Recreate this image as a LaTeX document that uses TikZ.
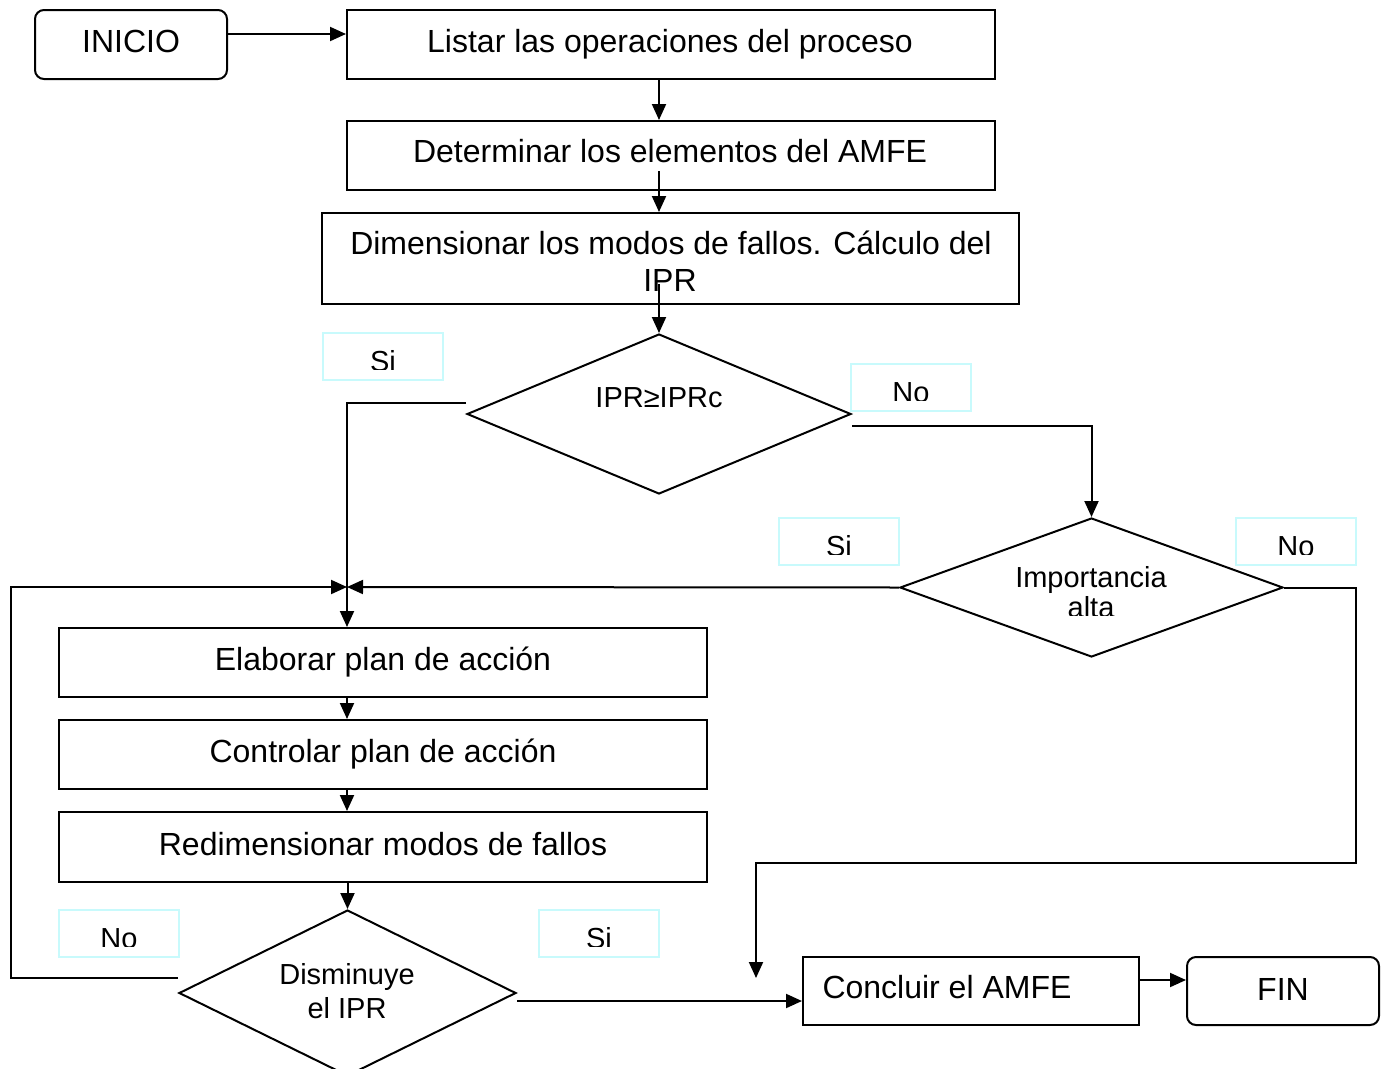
\documentclass[tikz,border=0pt]{standalone}
\usepackage{fontspec}
\setmainfont{Liberation Sans}
\usetikzlibrary{arrows.meta,shapes.geometric}

\definecolor{lblcyan}{RGB}{200,250,252}

\begin{document}
\begin{tikzpicture}[x=1pt,y=-1pt,
  line width=2pt,
  box/.style={draw=black, line width=2pt, inner sep=0pt},
  rbox/.style={box, rounded corners=9pt},
  decision/.style={draw=black, line width=2pt, diamond, inner sep=0pt},
  lbl/.style={draw=lblcyan, line width=1.8pt, inner sep=0pt,
              minimum width=120pt, minimum height=47pt},
  bigtxt/.style={anchor=base, inner sep=0pt, font=\fontsize{32}{37}\selectfont},
  smalltxt/.style={anchor=base, inner sep=0pt, font=\fontsize{29}{34}\selectfont},
  arr/.style={-{Triangle[length=16pt,width=14pt]}, line width=2pt}]

\useasboundingbox (0,0) rectangle (1386,1068);

% process boxes
\node[rbox, minimum width=192pt, minimum height=69pt] (inicio) at (131,44.5) {};
\node[box,  minimum width=648pt, minimum height=69pt] (listar) at (671,44.5) {};
\node[box,  minimum width=648pt, minimum height=69pt] (determ) at (671,155.5) {};
\node[box,  minimum width=697pt, minimum height=91pt] (dimens) at (670.5,258.5) {};
\node[box,  minimum width=648pt, minimum height=69pt] (elab)   at (383,662.5) {};
\node[box,  minimum width=648pt, minimum height=69pt] (contr)  at (383,754.5) {};
\node[box,  minimum width=648pt, minimum height=70pt] (redim)  at (383,847) {};
\node[box,  minimum width=336pt, minimum height=68pt] (concl)  at (971,991) {};
\node[rbox, minimum width=192pt, minimum height=68pt] (fin)    at (1283,991) {};

% decisions
\node[decision, minimum width=384pt, minimum height=160pt] (ipr)  at (659,414) {};
\node[decision, minimum width=383pt, minimum height=139pt] (imp)  at (1091.5,587.5) {};
\node[decision, minimum width=337pt, minimum height=166pt] (dism) at (347.5,993) {};

% texts
\node[bigtxt] (t-inicio) at (131,52) {INICIO};
\node[bigtxt] (t-listar) at (670,52) {Listar las operaciones del proceso};
\node[bigtxt] (t-determ) at (670,162) {Determinar los elementos del AMFE};
\node[bigtxt] (t-dim1) at (671,254) {Dimensionar los modos de fallos. Cálculo del};
\node[bigtxt] (t-dim2) at (670,291) {IPR};
\node[smalltxt] (t-ipr) at (659,407) {IPR≥IPRc};
\node[smalltxt] (t-imp1) at (1091,587) {Importancia};
\begin{scope}
  \clip (1000,595) rectangle (1180,615);
  \node[smalltxt] (t-imp2) at (1091,617) {alta};
\end{scope}
\node[bigtxt] (t-elab)  at (383,670) {Elaborar plan de acción};
\node[bigtxt] (t-contr) at (383,762) {Controlar plan de acción};
\node[bigtxt] (t-redim) at (383,855) {Redimensionar modos de fallos};
\node[smalltxt] (t-dism1) at (347,984) {Disminuye};
\node[smalltxt] (t-dism2) at (347,1018) {el IPR};
\node[bigtxt] (t-concl) at (947,998) {Concluir el AMFE};
\node[bigtxt] (t-fin)   at (1283,1000) {FIN};

% branch labels, text cut by the frame of each label
\foreach \n/\x/\y/\t in {si1/323/333/Si, no1/851/364/No, si2/779/518/Si,
                         no2/1236/518/No, no3/59/910/No, si3/539/910/Si} {
  \node[lbl] (\n) at (\x+60,\y+23.5) {};
  \begin{scope}
    \clip (\x,\y) rectangle (\x+120,\y+36);
    \node[smalltxt] (\n-t) at (\x+60,\y+38) {\t};
  \end{scope}
}

% junction and turning points
\coordinate (merge) at (347,587);
\coordinate (lturn) at (11,587);
\coordinate (rturn) at (1356,863);
\coordinate (nofin) at (756,978);

% connectors
\draw[arr] ([yshift=10.5pt]inicio.east) -- ([yshift=10.5pt]listar.west);
\draw[arr] (listar.south -| ipr.north) -- (determ.north -| ipr.north);
\draw[arr] ([yshift=20pt]determ.south -| ipr.north) -- (dimens.north -| ipr.north);
\draw[arr] ([yshift=21pt]dimens.south -| ipr.north) -- (ipr.north);

\draw[arr] ([yshift=11pt]ipr.west) -| (elab.north -| merge);
\draw[arr] ([yshift=-12pt]ipr.east) -| (imp.north);

\draw[arr] (imp.west) -- (merge);
\draw[arr] (imp.east) -| (rturn) -| (nofin);

\draw[arr] (elab.south -| merge) -- (contr.north -| merge);
\draw[arr] (contr.south -| merge) -- (redim.north -| merge);
\draw[arr] (redim.south -| dism.north) -- (dism.north);

\draw[arr] ([yshift=15pt]dism.west) -| (lturn) -- (merge);
\draw[arr] ([yshift=-8pt]dism.east) -- ([yshift=-8pt]dism.east -| concl.west);
\draw[arr] ([yshift=11pt]concl.east) -- ([yshift=11pt]fin.west);

\end{tikzpicture}
\end{document}
